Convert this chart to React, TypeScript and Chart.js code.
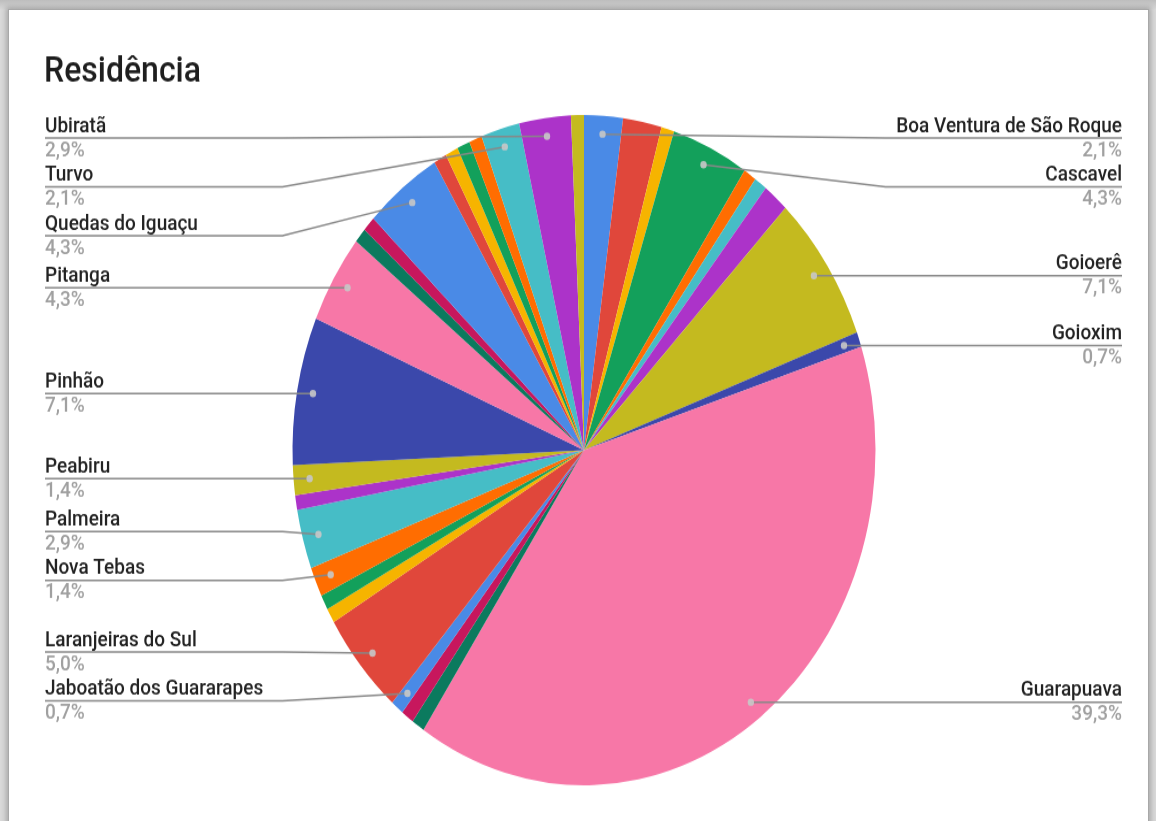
import React, { useEffect, useRef } from 'react';
import { Chart, registerables } from 'chart.js';

Chart.register(...registerables);

const TITLE = 'Residência';

// Slices in clockwise order from 12 o'clock (alphabetical). Empty names = unlabeled small slices.
const categories: string[] = [
  'Boa Ventura de São Roque', '', '', 'Cascavel', '', '', '', 'Goioerê', 'Goioxim', 'Guarapuava',
  '', '', 'Jaboatão dos Guararapes', 'Laranjeiras do Sul', '', '', 'Nova Tebas', 'Palmeira', '', 'Peabiru',
  'Pinhão', 'Pitanga', '', '', 'Quedas do Iguaçu', '', '', '', '', 'Turvo', 'Ubiratã', '',
];

const counts: number[] = [
  3, 3, 1, 6, 1, 1, 2, 10, 1, 55,
  1, 1, 1, 7, 1, 1, 2, 4, 1, 2,
  10, 6, 1, 1, 6, 1, 1, 1, 1, 3, 4, 1,
];

const palette: string[] = [
  '#4a8ae6', '#e0473b', '#f6b400', '#13a05b', '#ff6d01', '#46bdc6',
  '#ac33c9', '#c4ba1f', '#3b48ab', '#f777a7', '#0b7a5e', '#c7175d',
];

const W = 1156;
const H_OUT = 821;
const H = 714;
const SY = H_OUT / H;

const calloutPlugin = {
  id: 'callouts',
  afterDraw(chart: any) {
    const ctx: CanvasRenderingContext2D = chart.ctx;
    const meta = chart.getDatasetMeta(0);
    const values: number[] = chart.data.datasets[0].data;
    const total = values.reduce((a, b) => a + b, 0);
    const first = meta.data[0];
    const cx = first.x;
    const cy = first.y;
    const R = first.outerRadius;

    type Item = { name: string; pct: string; w: number; ax: number; ay: number; left: boolean; ly: number };
    const items: Item[] = [];
    meta.data.forEach((arc: any, i: number) => {
      const name = chart.data.labels[i];
      if (!name) return;
      const mid = (arc.startAngle + arc.endAngle) / 2;
      const ax = cx + Math.cos(mid) * R * 0.945;
      const ay = cy + Math.sin(mid) * R * 0.945;
      const pct = ((values[i] / total) * 100).toFixed(1).replace('.', ',') + '%';
      items.push({ name, pct, w: values[i], ax, ay, left: ax < cx, ly: ay });
    });

    const GAP = 42.5;
    const MINY = chart.chartArea.top + 20;
    const MAXY = chart.height - 30;

    const place = (list: Item[]) => {
      list.sort((a, b) => a.ay - b.ay);
      type Cl = { items: Item[]; y: number };
      const fix = (c: Cl) => {
        const n = c.items.length;
        let sw = 0;
        let s = 0;
        c.items.forEach((it, k) => {
          s += it.w * (it.ay - k * GAP);
          sw += it.w;
        });
        let m = s / sw;
        m = Math.max(MINY, Math.min(MAXY - (n - 1) * GAP, m));
        c.y = m;
      };
      const clusters: Cl[] = list.map((it) => ({ items: [it], y: it.ay }));
      clusters.forEach(fix);
      let changed = true;
      while (changed) {
        changed = false;
        for (let i = 0; i < clusters.length - 1; i++) {
          const a = clusters[i];
          const b = clusters[i + 1];
          if (a.y + a.items.length * GAP > b.y + 0.01) {
            a.items = a.items.concat(b.items);
            clusters.splice(i + 1, 1);
            fix(a);
            changed = true;
            break;
          }
        }
      }
      clusters.forEach((c) => c.items.forEach((it, k) => (it.ly = c.y + k * GAP)));
    };
    place(items.filter((it) => it.left));
    place(items.filter((it) => !it.left));

    ctx.save();
    // title
    ctx.fillStyle = '#1e1e1e';
    ctx.font = '500 32px Roboto';
    ctx.textAlign = 'left';
    ctx.textBaseline = 'alphabetic';
    ctx.fillText(TITLE, 44, 71);

    for (const it of items) {
      const tx = it.left ? 45 : chart.width - 34;
      const bx = it.left ? cx - R - 10 : cx + R + 10;
      ctx.strokeStyle = '#888888';
      ctx.lineWidth = 1.5;
      ctx.beginPath();
      ctx.moveTo(tx, it.ly);
      ctx.lineTo(bx, it.ly);
      ctx.lineTo(it.ax, it.ay);
      ctx.stroke();

      ctx.beginPath();
      ctx.arc(it.ax, it.ay, 3.2, 0, Math.PI * 2);
      ctx.fillStyle = 'rgba(200,200,200,0.9)';
      ctx.fill();

      ctx.textAlign = it.left ? 'left' : 'right';
      ctx.font = '500 19px Roboto';
      ctx.fillStyle = '#222222';
      ctx.fillText(it.name, tx, it.ly - 5.5);
      ctx.fillStyle = '#a0a0a0';
      ctx.fillText(it.pct, tx, it.ly + 15.5);
    }
    ctx.restore();
  },
};

export default function App() {
  const ref = useRef<HTMLCanvasElement | null>(null);

  useEffect(() => {
    if (!ref.current) return;
    const colors = counts.map((_, i) => palette[i % palette.length]);
    const chart = new Chart(ref.current, {
      type: 'pie',
      data: {
        labels: categories,
        datasets: [
          {
            data: counts,
            backgroundColor: colors,
            borderWidth: 0,
          },
        ],
      },
      options: {
        responsive: false,
        maintainAspectRatio: false,
        animation: false,
        devicePixelRatio: 1,
        layout: { padding: { left: 292, right: 280, top: 100, bottom: 31 } },
        plugins: {
          legend: { display: false },
          tooltip: { enabled: false },
          title: { display: false },
        },
      },
      plugins: [calloutPlugin],
    });
    return () => chart.destroy();
  }, []);

  return (
    <div
      style={{
        position: 'fixed',
        left: 0,
        top: 0,
        width: W,
        height: H_OUT,
        overflow: 'hidden',
        background: 'linear-gradient(#bdbdbd, #d9d9d9 10px)',
      }}
    >
      <div
        style={{
          position: 'absolute',
          left: 8,
          top: 9,
          width: W - 17,
          height: H_OUT + 20,
          background: '#ffffff',
          border: '1px solid #a8a8a8',
          boxShadow: '0 0 5px 2px rgba(0,0,0,0.22)',
        }}
      />
      <div
        style={{
          position: 'absolute',
          left: 0,
          top: 0,
          width: W,
          height: H,
          transform: `scaleY(${SY})`,
          transformOrigin: '0 0',
        }}
      >
        <canvas ref={ref} width={W} height={H} style={{ display: 'block' }} />
      </div>
    </div>
  );
}
